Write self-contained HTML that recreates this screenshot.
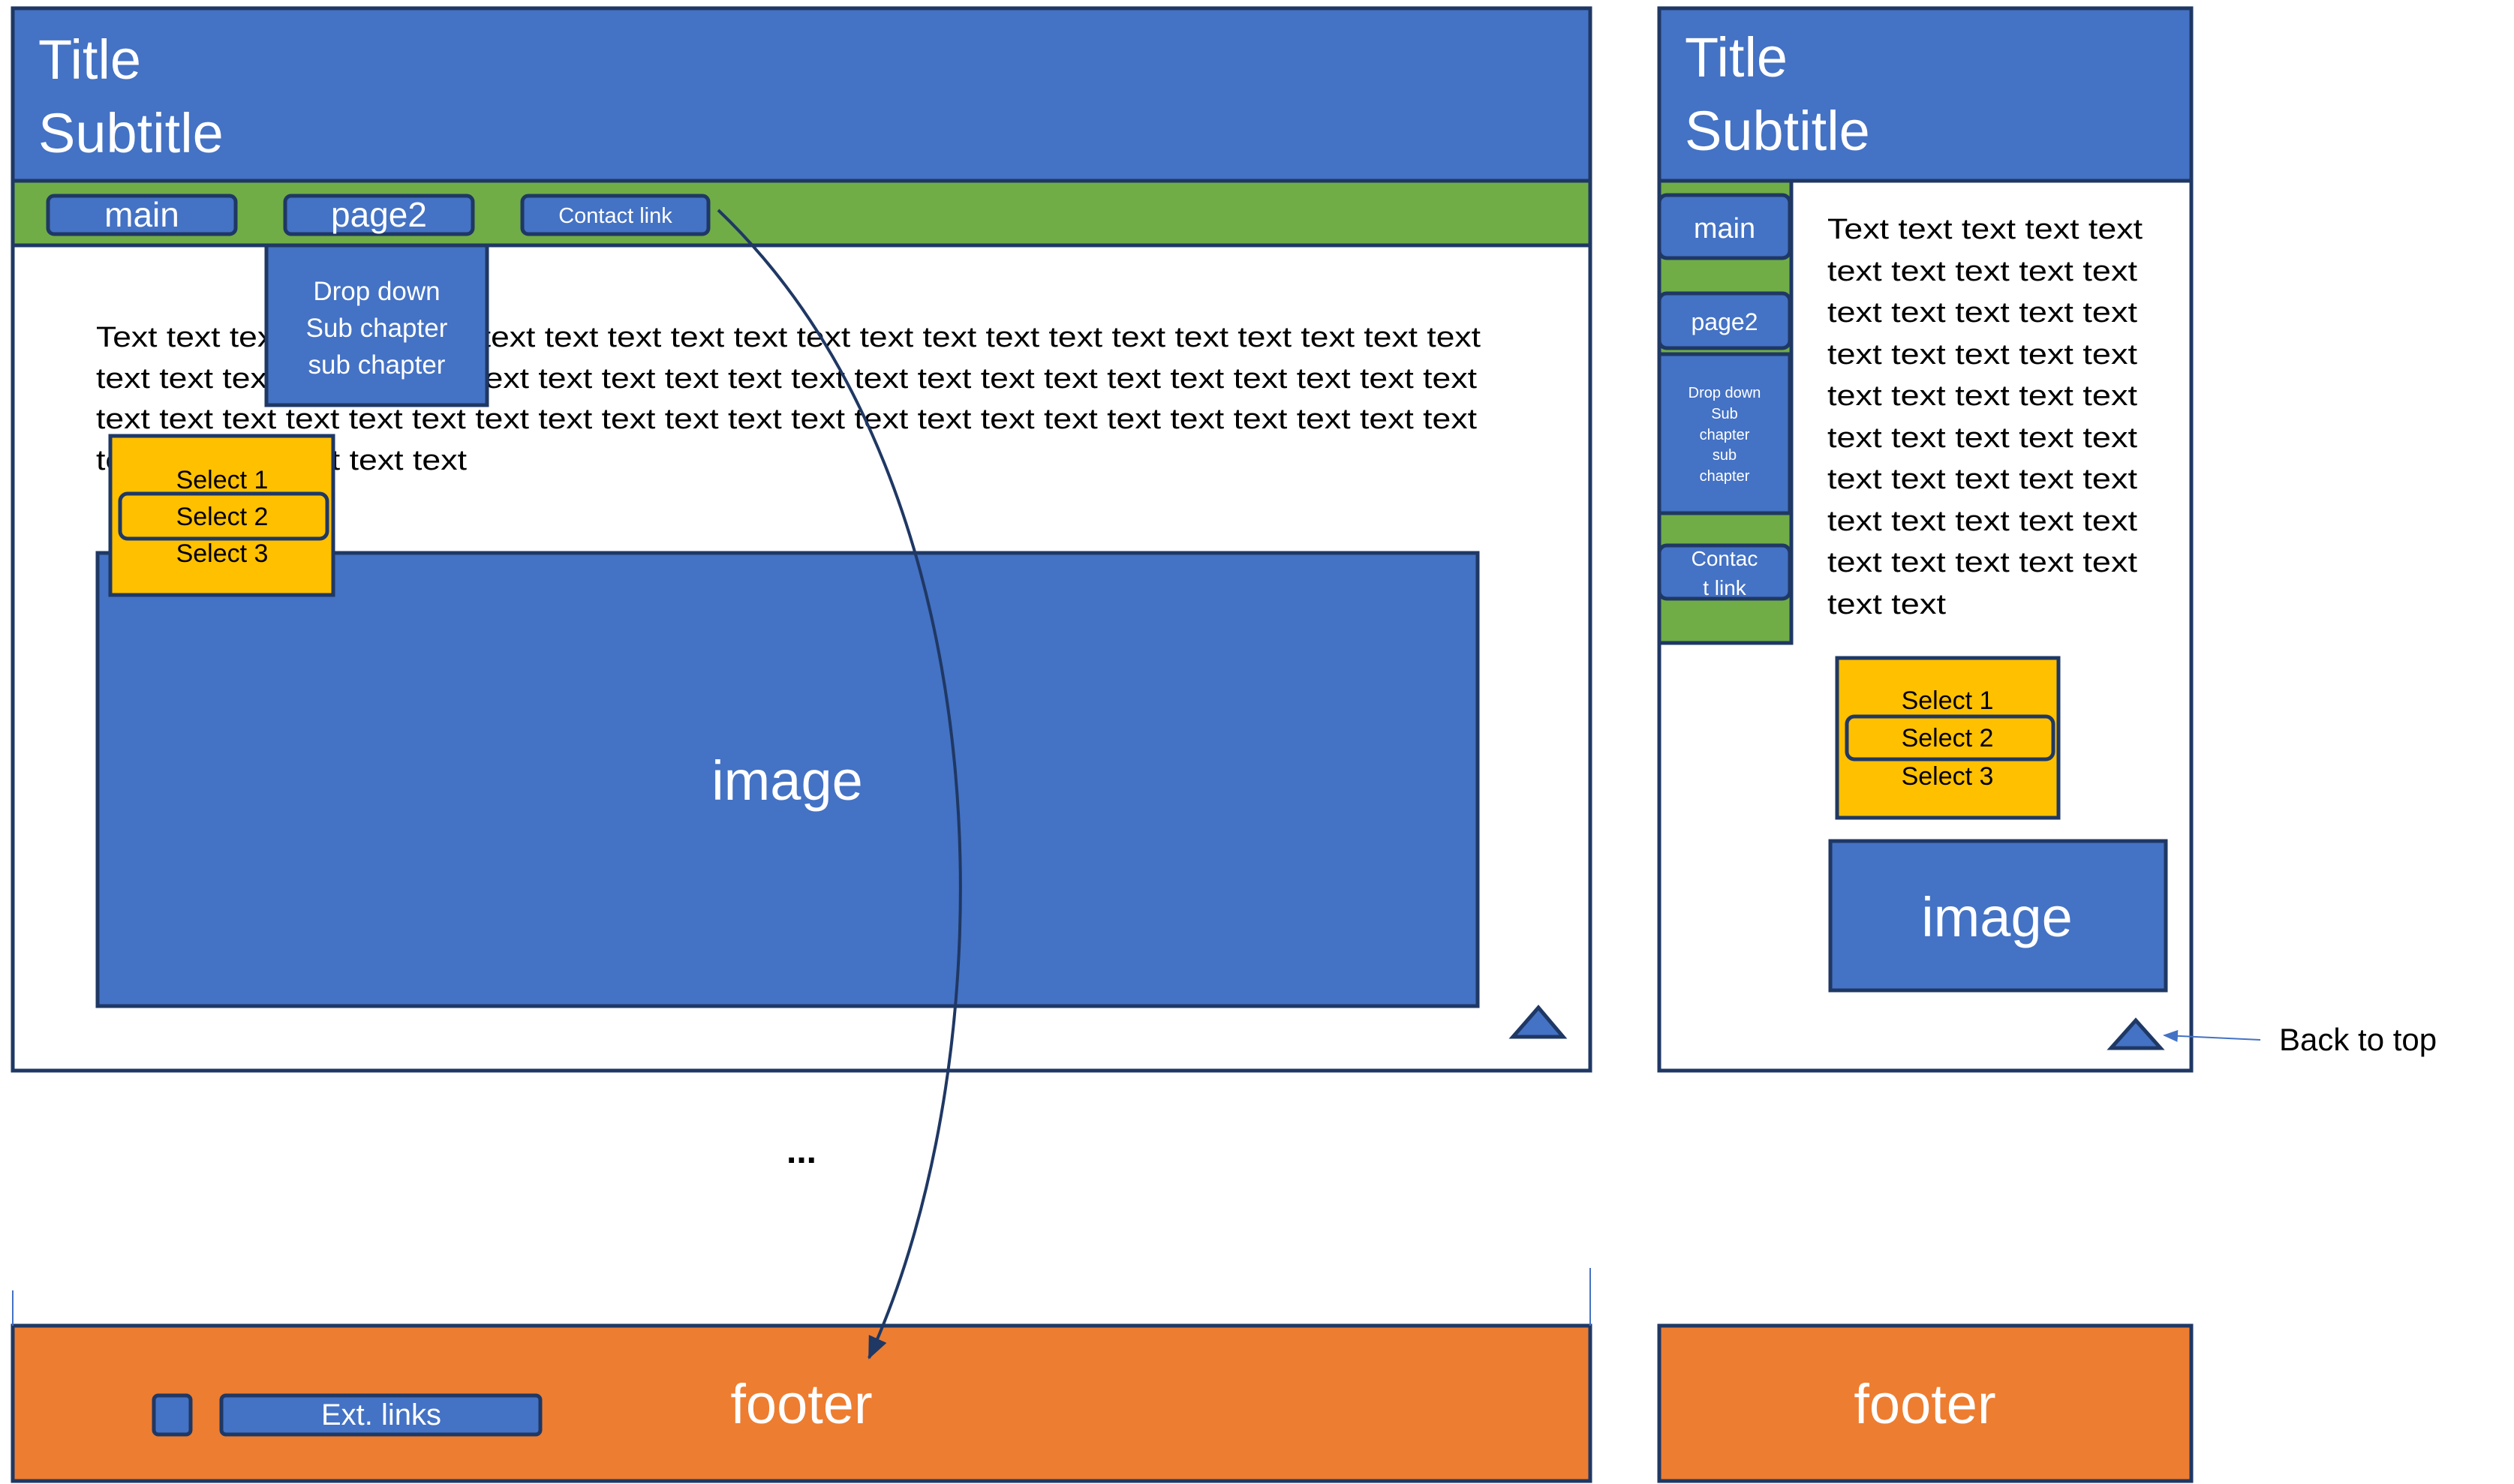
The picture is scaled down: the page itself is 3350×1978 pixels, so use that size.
<!DOCTYPE html>
<html><head><meta charset="utf-8"><style>
html,body{margin:0;padding:0;background:#fff;width:3350px;height:1978px;overflow:hidden}
svg text{font-family:"Liberation Sans",sans-serif}
</style></head><body>
<svg width="3350" height="1978" viewBox="0 0 3350 1978" xmlns="http://www.w3.org/2000/svg">
<defs>
<marker id="ah2" markerWidth="22" markerHeight="22" refX="18" refY="11" orient="auto" markerUnits="userSpaceOnUse"><path d="M0,3 L20,11 L0,19 z" fill="#4472C4"/></marker>
<marker id="ah3" markerWidth="32" markerHeight="32" refX="28" refY="16" orient="auto" markerUnits="userSpaceOnUse"><path d="M0,3 L30,16 L0,29 z" fill="#1F3864"/></marker></defs>
<g stroke="#1F3864" stroke-width="5">
<rect x="17" y="11" width="2102" height="1416" fill="#fff"/>
<rect x="17" y="11" width="2102" height="230" fill="#4472C4"/>
<rect x="17" y="241" width="2102" height="86" fill="#70AD47"/>
<rect x="64" y="261" width="250" height="51" rx="8" fill="#4472C4"/>
<rect x="380" y="261" width="250" height="51" rx="8" fill="#4472C4"/>
<rect x="696" y="261" width="248" height="51" rx="8" fill="#4472C4"/>
</g>
<g font-size="38" fill="#000">
<text x="128" y="462" textLength="1845" lengthAdjust="spacingAndGlyphs">Text text text text text text text text text text text text text text text text text text text text text text</text>
<text x="128" y="517" textLength="1840" lengthAdjust="spacingAndGlyphs">text text text text text text text text text text text text text text text text text text text text text text</text>
<text x="128" y="571" textLength="1840" lengthAdjust="spacingAndGlyphs">text text text text text text text text text text text text text text text text text text text text text text</text>
<text x="128" y="626" textLength="494" lengthAdjust="spacingAndGlyphs">text text text text text text</text>
</g>
<g stroke="#1F3864" stroke-width="5">
<rect x="355" y="327" width="294" height="213" fill="#4472C4"/>
<rect x="130" y="737" width="1839" height="604" fill="#4472C4"/>
<rect x="147" y="581" width="297" height="212" fill="#FFC000"/>
<rect x="160" y="658" width="276" height="60" rx="10" fill="#FFC000"/>
<polygon points="2016,1382 2083,1382 2050,1343" fill="#4472C4"/>
<rect x="17" y="1767" width="2102" height="207" fill="#ED7D31"/>
<rect x="205" y="1860" width="49" height="52" rx="6" fill="#4472C4"/>
<rect x="295" y="1860" width="425" height="52" rx="6" fill="#4472C4"/>
<rect x="2211" y="11" width="709" height="1416" fill="#fff"/>
<rect x="2211" y="11" width="709" height="230" fill="#4472C4"/>
<rect x="2211" y="241" width="176" height="616" fill="#70AD47"/>
<rect x="2211" y="260" width="174" height="84" rx="10" fill="#4472C4"/>
<rect x="2211" y="391" width="174" height="73" rx="10" fill="#4472C4"/>
<rect x="2211" y="472" width="174" height="212" fill="#4472C4"/>
<rect x="2211" y="727" width="174" height="71" rx="10" fill="#4472C4"/>
<rect x="2448" y="877" width="295" height="213" fill="#FFC000"/>
<rect x="2461" y="955" width="275" height="57" rx="10" fill="#FFC000"/>
<rect x="2439" y="1121" width="447" height="199" fill="#4472C4"/>
<polygon points="2813,1397 2879,1397 2846,1360" fill="#4472C4"/>
<rect x="2211" y="1767" width="709" height="207" fill="#ED7D31"/>
</g>
<line x1="17" y1="1720" x2="17" y2="1767" stroke="#4472C4" stroke-width="2"/>
<line x1="2119" y1="1690" x2="2119" y2="1767" stroke="#4472C4" stroke-width="2"/>
<g fill="#fff">
<text x="51" y="105" font-size="74">Title</text>
<text x="51" y="203" font-size="74">Subtitle</text>
<text x="189" y="302" font-size="46" text-anchor="middle">main</text>
<text x="505" y="302" font-size="46" text-anchor="middle">page2</text>
<text x="820" y="297" font-size="29" text-anchor="middle">Contact link</text>
<text x="502" y="400" font-size="35" text-anchor="middle">Drop down</text>
<text x="502" y="449" font-size="35" text-anchor="middle">Sub chapter</text>
<text x="502" y="498" font-size="35" text-anchor="middle">sub chapter</text>
<text x="1049" y="1066" font-size="74" text-anchor="middle">image</text>
<text x="1068" y="1897" font-size="74" text-anchor="middle">footer</text>
<text x="508" y="1899" font-size="40" text-anchor="middle">Ext. links</text>
<text x="2245" y="102" font-size="74">Title</text>
<text x="2245" y="200" font-size="74">Subtitle</text>
<text x="2298" y="317" font-size="38" text-anchor="middle">main</text>
<text x="2298" y="440" font-size="32" text-anchor="middle">page2</text>
<g font-size="20" text-anchor="middle"><text x="2298" y="530">Drop down</text><text x="2298" y="558">Sub</text><text x="2298" y="586">chapter</text><text x="2298" y="613">sub</text><text x="2298" y="641">chapter</text></g>
<text x="2298" y="754" font-size="28" text-anchor="middle">Contac</text>
<text x="2298" y="793" font-size="28" text-anchor="middle">t link</text>
<text x="2661" y="1248" font-size="74" text-anchor="middle">image</text>
<text x="2565" y="1897" font-size="74" text-anchor="middle">footer</text>
</g>
<g fill="#000" font-size="34" text-anchor="middle">
<text x="296" y="651">Select 1</text>
<text x="296" y="700">Select 2</text>
<text x="296" y="749">Select 3</text>
<text x="2595" y="945">Select 1</text>
<text x="2595" y="995">Select 2</text>
<text x="2595" y="1046">Select 3</text>
</g>
<g fill="#000" font-size="38">
<text x="2435" y="318" textLength="420" lengthAdjust="spacingAndGlyphs">Text text text text text</text>
<text x="2435" y="374" textLength="413" lengthAdjust="spacingAndGlyphs">text text text text text</text>
<text x="2435" y="429" textLength="413" lengthAdjust="spacingAndGlyphs">text text text text text</text>
<text x="2435" y="485" textLength="413" lengthAdjust="spacingAndGlyphs">text text text text text</text>
<text x="2435" y="540" textLength="413" lengthAdjust="spacingAndGlyphs">text text text text text</text>
<text x="2435" y="596" textLength="413" lengthAdjust="spacingAndGlyphs">text text text text text</text>
<text x="2435" y="651" textLength="413" lengthAdjust="spacingAndGlyphs">text text text text text</text>
<text x="2435" y="707" textLength="413" lengthAdjust="spacingAndGlyphs">text text text text text</text>
<text x="2435" y="762" textLength="413" lengthAdjust="spacingAndGlyphs">text text text text text</text>
<text x="2435" y="818" textLength="158" lengthAdjust="spacingAndGlyphs">text text</text>
<text x="1068" y="1550" font-size="48" text-anchor="middle" font-weight="bold">...</text>
<text x="3037" y="1400" font-size="42">Back to top</text>
</g>
<line x1="3012" y1="1386" x2="2884" y2="1380" stroke="#4472C4" stroke-width="2" marker-end="url(#ah2)"/>
<path d="M957,280 C1345,650 1345,1400 1158,1810" fill="none" stroke="#1F3864" stroke-width="4" marker-end="url(#ah3)"/>
</svg>
</body></html>
